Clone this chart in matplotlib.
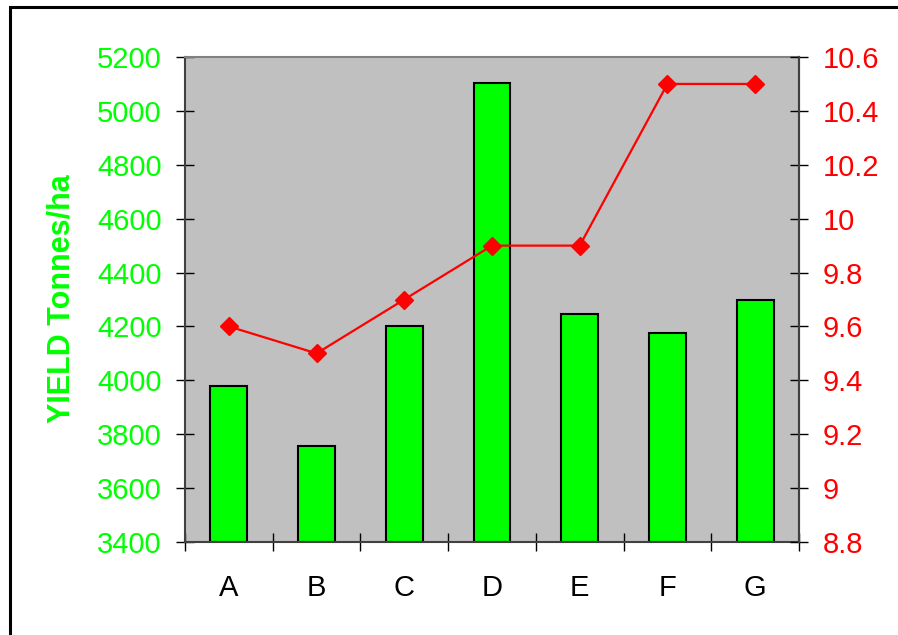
import matplotlib
matplotlib.use("Agg")
import matplotlib.pyplot as plt
from matplotlib.patches import Rectangle
import numpy as np

plt.rcParams['font.family'] = ['Liberation Sans', 'DejaVu Sans']

# chart data
categories = ["A", "B", "C", "D", "E", "F", "G"]
yield_values = [3980, 3755, 4200, 5105, 4245, 4175, 4300]
line_values = [9.6, 9.5, 9.7, 9.9, 9.9, 10.5, 10.5]
left_ticks = [3400, 3600, 3800, 4000, 4200, 4400, 4600, 4800, 5000, 5200]
right_ticks = [8.8, 9, 9.2, 9.4, 9.6, 9.8, 10, 10.2, 10.4, 10.6]
right_labels = ["8.8", "9", "9.2", "9.4", "9.6", "9.8", "10", "10.2", "10.4", "10.6"]

GREEN = "#00ff00"
RED = "#ff0000"
SPINE = "#404040"

fig = plt.figure(figsize=(8.98, 6.35), dpi=100)
# outer frame around the chart
fig.patches.append(Rectangle((10 / 898, -0.1), 1.2, 1 - 7 / 635 + 0.1,
                             transform=fig.transFigure, fill=False,
                             edgecolor="black", linewidth=2.2))

ax = fig.add_axes([185 / 898, 1 - 542 / 635, 614 / 898, 485 / 635])
ax.set_facecolor("#c0c0c0")

x = np.arange(len(categories))
ax.bar(x, np.array(yield_values) - 3400, bottom=3400, width=0.42,
       color=GREEN, edgecolor="black", linewidth=1.5, zorder=2)
ax.set_xlim(-0.5, len(categories) - 0.5)
ax.set_ylim(3400, 5200)
ax.set_yticks(left_ticks)
ax.set_yticklabels([str(v) for v in left_ticks])
ax.tick_params(axis="y", direction="inout", length=13.5, width=1,
               colors="black", labelcolor=GREEN, labelsize=21, pad=10)

# category boundaries carry the ticks, labels sit at the centres
ax.set_xticks(np.arange(len(categories) + 1) - 0.5)
ax.set_xticklabels([])
ax.set_xticks(x, minor=True)
ax.set_xticklabels(categories, minor=True)
ax.tick_params(axis="x", which="major", direction="inout", length=13.5, width=1)
ax.tick_params(axis="x", which="minor", length=0, labelsize=21, pad=23)

for side in ["left", "right", "bottom"]:
    ax.spines[side].set_color(SPINE)
    ax.spines[side].set_linewidth(1.5)
ax.spines["top"].set_color("#808080")
ax.spines["top"].set_linewidth(1.5)

ax2 = ax.twinx()
ax2.plot(x, line_values, color=RED, linewidth=1.6, marker="D",
         markersize=9, markeredgecolor=RED, markerfacecolor=RED)
ax2.set_ylim(8.8, 10.6)
ax2.set_yticks(right_ticks)
ax2.set_yticklabels(right_labels)
ax2.tick_params(axis="y", direction="inout", length=13.5, width=1,
                colors="black", labelcolor=RED, labelsize=21, pad=10)
ax2.spines["right"].set_color(SPINE)
ax2.spines["right"].set_linewidth(1.5)
ax2.spines["top"].set_visible(False)
ax2.spines["left"].set_visible(False)
ax2.spines["bottom"].set_visible(False)

fig.text(61 / 898, 1 - 298.5 / 635, "YIELD Tonnes/ha", rotation=90,
         ha="center", va="center", color=GREEN, fontsize=22, fontweight="bold")

fig.savefig("out.png", dpi=100)
